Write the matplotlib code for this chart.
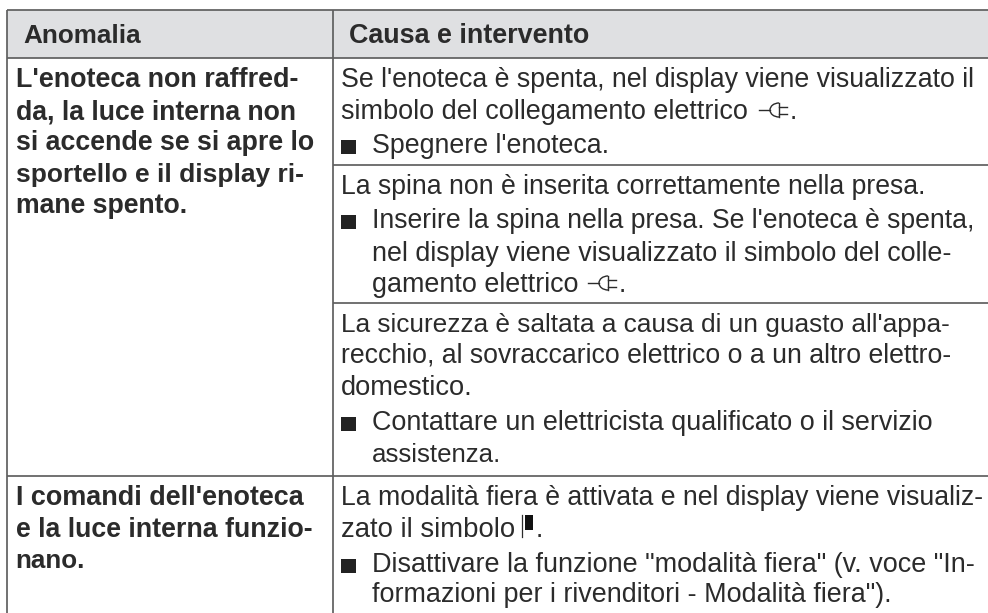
import matplotlib
matplotlib.use("Agg")
import matplotlib.pyplot as plt
import numpy as np
from matplotlib.patches import Rectangle, Arc

W, H = 988, 613
FONT = "Liberation Sans"
INK = "#2b2b2b"
RULE = "#5f5f5f"

headers = ["Anomalia", "Causa e intervento"]
left_text = [
    "L'enoteca non raffred-", "da, la luce interna non",
    "si accende se si apre lo", "sportello e il display ri-",
    "mane spento.",
    "I comandi dell'enoteca", "e la luce interna funzio-",
    "nano.",
]
right_text = [
    "Se l'enoteca è spenta, nel display viene visualizzato il",
    "simbolo del collegamento elettrico",
    "Spegnere l'enoteca.",
    "La spina non è inserita correttamente nella presa.",
    "Inserire la spina nella presa. Se l'enoteca è spenta,",
    "nel display viene visualizzato il simbolo del colle-",
    "gamento elettrico",
    "La sicurezza è saltata a causa di un guasto all'appa-",
    "recchio, al sovraccarico elettrico o a un altro elettro-",
    "domestico.",
    "Contattare un elettricista qualificato o il servizio",
    "assistenza.",
    "La modalità fiera è attivata e nel display viene visualiz-",
    "zato il simbolo",
    'Disattivare la funzione "modalità fiera" (v. voce "In-',
    'formazioni per i rivenditori - Modalità fiera").',
]

# layout, kept apart from the text
header_x = [23, 348.5]
header_end = [141, 589]
left_y = [87, 119, 150, 182, 213, 505, 537, 568]
left_end = [298, 296, 313, 303, 187, 303, 312, 85]
right_x = [341, 341, 371.5, 341, 371.5, 371.5, 371.5, 341, 341, 341, 371.5, 371.5, 341, 341, 371.5, 371.5]
right_y = [87, 119, 153, 194, 228, 261, 292, 332, 363, 395, 430, 462, 505, 537, 572, 602]
right_end = [973, 748, 608, 925, 973, 950, 578, 952, 951, 473, 933, 501, 983, 518, 975, 892]
bullet_rows = [153, 228, 430, 572]
plug_rows = [(119, 759), (292, 588)]

fig = plt.figure(figsize=(W / 100, H / 100), dpi=100)
ax = fig.add_axes([0, 0, 1, 1])
ax.set_xlim(0, W)
ax.set_ylim(H, 0)
ax.axis("off")
renderer = fig.canvas.get_renderer()
SIZES = np.arange(18.6, 19.85, 0.05)


def fitted(s, x, y, end, **kw):
    """Place a line of text at the size whose width best reaches the reference line end."""
    t = ax.text(x, y, s, family=FONT, color=INK, va="baseline", **kw)
    best, err = SIZES[0], 1e9
    for size in SIZES:
        t.set_fontsize(size)
        e = abs(t.get_window_extent(renderer).width - (end - x))
        if e < err:
            best, err = size, e
    t.set_fontsize(best)
    return t


ax.add_patch(Rectangle((7, 10), 981, 48, fc="#dfe0e2", ec="none", zorder=0))
for x0, x1, y in [(7, 988, 10), (7, 988, 58), (333, 988, 165), (333, 988, 303), (7, 988, 475.5)]:
    ax.plot([x0, x1], [y, y], color=RULE, lw=1.25, solid_capstyle="butt")
for x in (7, 332.5):
    ax.plot([x, x], [10, H], color=RULE, lw=1.25, solid_capstyle="butt")

FS = 19.2
for s, x, end in zip(headers, header_x, header_end):
    fitted(s, x, 43, end, fontweight="bold")
for s, y, end in zip(left_text, left_y, left_end):
    fitted(s, 15.5, y, end, fontweight="bold")
for s, x, y, end in zip(right_text, right_x, right_y, right_end):
    fitted(s, x, y, end)
for y in bullet_rows:
    ax.add_patch(Rectangle((341, y - 13), 15, 14, fc="#222222", ec="none"))
for y, x in plug_rows:
    ax.plot([x, x + 11], [y - 9, y - 9], color=INK, lw=1.0)
    ax.add_patch(Arc((x + 20, y - 9), 18, 14, theta1=90, theta2=270, color=INK, lw=1.0))
    ax.plot([x + 20, x + 20], [y - 16, y - 2], color=INK, lw=1.0)
    ax.plot([x + 20, x + 28], [y - 12.5, y - 12.5], color=INK, lw=1.0)
    ax.plot([x + 20, x + 28], [y - 5.5, y - 5.5], color=INK, lw=1.0)
    ax.text(x + 31, y, ".", fontsize=FS, family=FONT, color=INK, va="baseline")
ax.plot([522, 522], [515, 537], color=INK, lw=0.9)
ax.add_patch(Rectangle((525, 515), 8, 15, fc="#111111", ec="none"))
ax.text(536, 537, ".", fontsize=FS, family=FONT, color=INK, va="baseline")

fig.savefig("out.png", dpi=100)
